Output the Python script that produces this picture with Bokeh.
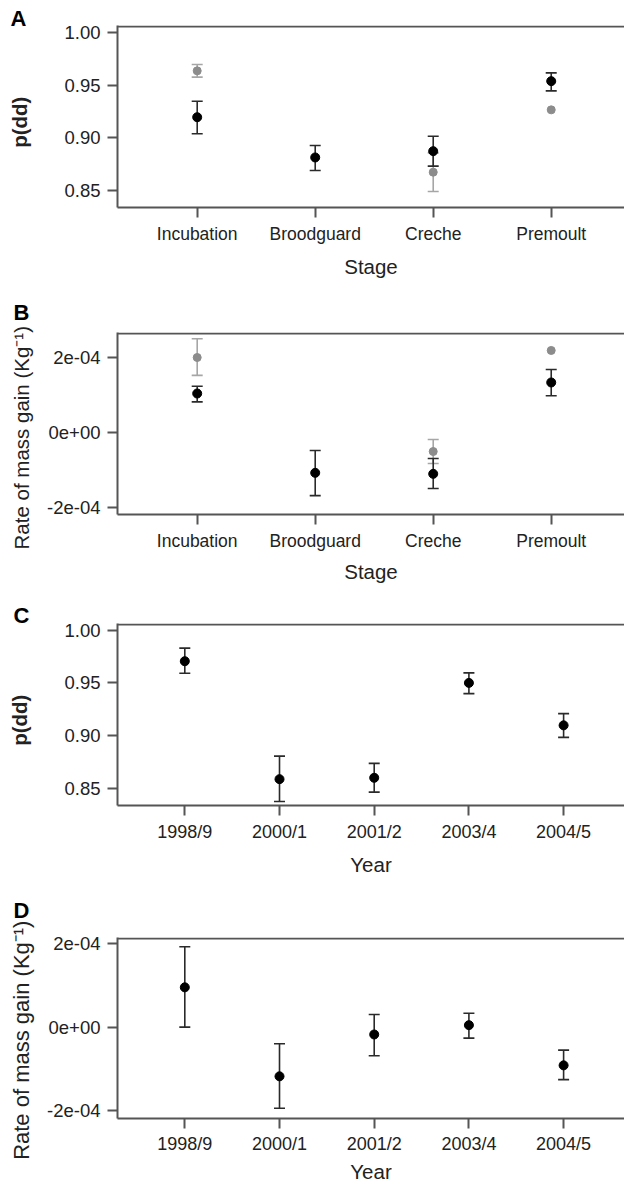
from bokeh.plotting import figure
from bokeh.layouts import column
from bokeh.models import Range1d, FixedTicker, Span
from bokeh.embed import file_html
from bokeh.resources import INLINE

NAN = float("nan")

stages = ["Incubation", "Broodguard", "Creche", "Premoult"]
years = ["1998/9", "2000/1", "2001/2", "2003/4", "2004/5"]

# Panel A: p(dd) by stage (black and grey series)
a_black = [0.9197, 0.8814, 0.8874, 0.9540]
a_black_lo = [0.9039, 0.8690, 0.8732, 0.9448]
a_black_hi = [0.9349, 0.8928, 0.9016, 0.9619]
a_grey = [0.9638, NAN, 0.8674, 0.9267]
a_grey_lo = [0.9578, NAN, 0.8490, NAN]
a_grey_hi = [0.9698, NAN, 0.8858, NAN]

# Panel B: rate of mass gain by stage
b_black = [1.044e-4, -1.08e-4, -1.107e-4, 1.339e-4]
b_black_lo = [0.82e-4, -1.69e-4, -1.50e-4, 0.982e-4]
b_black_hi = [1.24e-4, -0.48e-4, -0.696e-4, 1.687e-4]
b_grey = [2.008e-4, NAN, -0.509e-4, 2.196e-4]
b_grey_lo = [1.53e-4, NAN, -0.83e-4, NAN]
b_grey_hi = [2.51e-4, NAN, -0.187e-4, NAN]

# Panel C: p(dd) by year
c_val = [0.9705, 0.8585, 0.8598, 0.9499, 0.9096]
c_lo = [0.9591, 0.8373, 0.8462, 0.9397, 0.8982]
c_hi = [0.9829, 0.8804, 0.8735, 0.9594, 0.9207]

# Panel D: rate of mass gain by year
d_val = [0.952e-4, -1.175e-4, -0.175e-4, 0.048e-4, -0.913e-4]
d_lo = [0.0, -1.937e-4, -0.683e-4, -0.262e-4, -1.254e-4]
d_hi = [1.921e-4, -0.397e-4, 0.302e-4, 0.333e-4, -0.548e-4]

p_ticks = [0.85, 0.90, 0.95, 1.00]
p_tick_labels = ["0.85", "0.90", "0.95", "1.00"]
r_ticks = [-0.0002, 0.0, 0.0002]
r_tick_labels = ["-2e-04", "0e+00", "2e-04"]

FONT = "Liberation Sans"
BOX = "#555555"
TXT = "#222222"
NBSP = "\u00a0"


def panel(height, top, bottom, cats, xr, yr, yticks, ylabels, xfont, letter,
          letter_offset, letter_standoff, ytitle, ytitle_bold, ytitle_size,
          ytitle_standoff, xtitle, tick_standoff=6, xtitle_standoff=8):
    p = figure(width=624, height=height, output_backend="svg", toolbar_location=None,
               x_range=Range1d(*xr), y_range=Range1d(*yr),
               min_border_left=117, min_border_right=0,
               min_border_top=top, min_border_bottom=bottom, title=letter)
    p.grid.visible = False
    p.background_fill_color = "white"
    p.border_fill_color = "white"
    p.outline_line_color = None

    # top edge of the box (the right edge lies beyond the cropped picture)
    frame_h = height - top - bottom
    px = (yr[1] - yr[0]) / frame_h
    p.add_layout(Span(location=yr[1] - px, dimension="width",
                      line_color=BOX, line_width=2))

    p.title.align = "left"
    p.title.offset = letter_offset
    try:
        p.title.standoff = letter_standoff
    except Exception:
        p.title.standoff = max(0, letter_standoff)
    p.title.text_font = FONT
    p.title.text_font_size = "22px"
    p.title.text_font_style = "bold"
    p.title.text_color = "black"

    n = len(cats)
    xa = p.xaxis[0]
    xa.ticker = FixedTicker(ticks=list(range(1, n + 1)))
    xa.major_label_overrides = {i + 1: c for i, c in enumerate(cats)}
    xa.major_label_text_font = FONT
    xa.major_label_text_font_size = xfont
    xa.major_label_text_color = TXT
    xa.major_label_standoff = tick_standoff
    xa.major_tick_out = 10
    xa.major_tick_in = 0
    xa.minor_tick_line_color = None
    xa.axis_line_color = BOX
    xa.axis_line_width = 2
    xa.major_tick_line_color = BOX
    xa.major_tick_line_width = 2
    xa.axis_label = xtitle
    xa.axis_label_text_font = FONT
    xa.axis_label_text_font_size = "20.5px"
    xa.axis_label_text_font_style = "normal"
    xa.axis_label_text_color = TXT
    xa.axis_label_standoff = xtitle_standoff

    ya = p.yaxis[0]
    ya.ticker = FixedTicker(ticks=yticks)
    ya.major_label_overrides = {t: l for t, l in zip(yticks, ylabels)}
    ya.major_label_text_font = FONT
    ya.major_label_text_font_size = "18.5px"
    ya.major_label_text_color = TXT
    ya.major_label_standoff = 7
    ya.major_tick_out = 10
    ya.major_tick_in = 0
    ya.minor_tick_line_color = None
    ya.axis_line_color = BOX
    ya.axis_line_width = 2
    ya.major_tick_line_color = BOX
    ya.major_tick_line_width = 2
    ya.axis_label = ytitle
    ya.axis_label_text_font = FONT
    ya.axis_label_text_font_size = ytitle_size
    ya.axis_label_text_font_style = "bold" if ytitle_bold else "normal"
    ya.axis_label_text_color = TXT
    ya.axis_label_standoff = ytitle_standoff
    return p


def errbars(p, xs, val, lo, hi, bar_color, pt_color, pt_size):
    p.segment(x0=xs, y0=lo, x1=xs, y1=hi, line_color=bar_color, line_width=1.6)
    p.scatter(x=xs, y=lo, marker="dash", size=11, line_color=bar_color, line_width=1.6)
    p.scatter(x=xs, y=hi, marker="dash", size=11, line_color=bar_color, line_width=1.6)
    p.scatter(x=xs, y=val, marker="circle", size=pt_size, fill_color=pt_color,
              line_color=pt_color)


xs4 = list(range(1, len(stages) + 1))
xs5 = list(range(1, len(years) + 1))
rate_title = "Rate of mass gain (Kg\u207b\u00b9)"
pdd_title = "p(dd)"

pa = panel(290, 25, 83, stages, (0.3246, 4.621), (0.8338, 1.00695), p_ticks, p_tick_labels,
           "17.5px", "A", -107, -11, pdd_title + NBSP * 2, True, "20.5px", 30, "Stage")
errbars(pa, xs4, a_grey, a_grey_lo, a_grey_hi, "#a6a6a6", "#8c8c8c", 8)
errbars(pa, xs4, a_black, a_black_lo, a_black_hi, "#2a2a2a", "#000000", 9)

pb = panel(300, 42, 76, stages, (0.3246, 4.621), (-2.195e-4, 2.677e-4), r_ticks, r_tick_labels,
           "17.5px", "B", -104, 15, rate_title + NBSP * 5, False, "20.5px", 11, "Stage",
           xtitle_standoff=6)
errbars(pb, xs4, b_grey, b_grey_lo, b_grey_hi, "#a6a6a6", "#8c8c8c", 8)
errbars(pb, xs4, b_black, b_black_lo, b_black_hi, "#2a2a2a", "#000000", 9)

pc = panel(290, 33, 75, years, (0.2893, 5.643), (0.8335, 1.0063), p_ticks, p_tick_labels,
           "18px", "C", -104, -9, pdd_title + NBSP * 2, True, "20.5px", 30, "Year")
errbars(pc, xs5, c_val, c_lo, c_hi, "#2a2a2a", "#000000", 9)

pd_ = panel(306, 57, 68, years, (0.2893, 5.643), (-2.183e-4, 2.143e-4), r_ticks, r_tick_labels,
            "18px", "D", -104, 30, rate_title + NBSP * 4, False, "22px", 10, "Year",
            tick_standoff=5, xtitle_standoff=3)
errbars(pd_, xs5, d_val, d_lo, d_hi, "#2a2a2a", "#000000", 9)

layout = column(pa, pb, pc, pd_, spacing=0)
open("out.html", "w").write(file_html(layout, INLINE))
